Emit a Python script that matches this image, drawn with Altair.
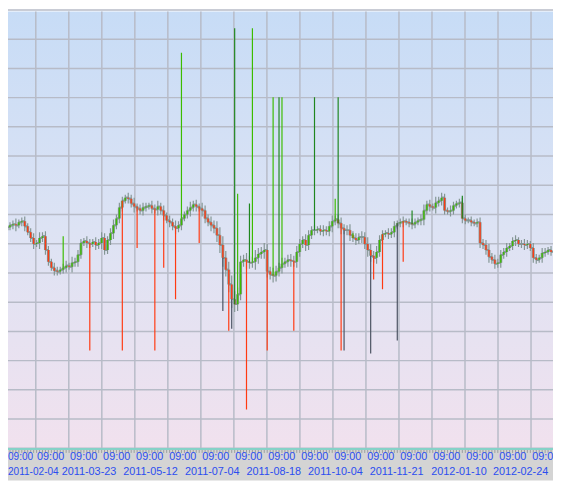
import altair as alt
import pandas as pd

# ---------------- data ----------------
# one close per bar, bars are evenly spaced along the time axis
closes = [
    26.6, 27.0, 27.3, 27.5, 27.6, 27.5, 27.8, 27.9, 27.4, 26.8,
    26.2, 25.6, 25.7, 26.2, 26.4, 25.0, 23.8, 23.2, 22.9, 22.8,
    23.0, 23.2, 23.4, 23.3, 23.7, 23.8, 24.5, 25.7, 25.9, 25.7,
    25.6, 25.8, 25.5, 25.7, 26.2, 25.0, 26.0, 26.7, 27.5, 28.2,
    29.3, 30.0, 30.3, 30.2, 29.7, 29.4, 29.2, 29.0, 29.3, 29.4,
    29.5, 29.2, 29.1, 29.4, 29.0, 28.5, 28.0, 27.8, 27.4, 27.2,
    27.5, 28.2, 28.6, 29.0, 29.3, 29.6, 29.4, 29.2, 29.0, 28.2,
    27.8, 27.5, 27.2, 26.5, 25.5, 24.2, 23.0, 21.5, 20.0, 19.5,
    20.5, 23.8, 24.0, 23.8, 23.7, 23.8, 24.2, 24.6, 24.8, 25.0,
    22.8, 22.5, 22.4, 22.8, 23.2, 23.6, 23.8, 24.0, 23.9, 23.8,
    24.8, 25.6, 26.0, 25.5, 26.5, 27.0, 27.0, 27.1, 26.9, 27.0,
    26.9, 27.4, 27.9, 28.1, 27.7, 27.2, 27.0, 27.0, 26.5, 26.2,
    26.0, 26.3, 26.3, 25.6, 25.0, 24.4, 24.2, 24.8, 26.0, 26.6,
    26.7, 26.6, 26.8, 27.4, 27.7, 27.8, 27.9, 27.8, 27.7, 27.6,
    27.8, 28.0, 28.1, 29.0, 29.6, 29.4, 29.3, 29.8, 30.0, 30.3,
    29.0, 28.9, 29.0, 29.5, 29.7, 29.8, 28.2, 28.0, 28.0, 27.8,
    27.7, 27.8, 25.7, 25.5, 25.0, 24.3, 24.0, 23.6, 23.7, 24.5,
    24.8, 25.2, 25.4, 25.9, 26.0, 25.6, 25.6, 25.5, 25.6, 25.2,
    24.2, 24.0, 24.2, 24.7, 24.8, 25.0, 24.8,
]

# how far each bar's high/low reaches beyond its body (price units)
wicks = [
    0.4, 0.3, 0.5, 0.3, 0.4, 0.6, 0.3, 0.4, 0.5, 0.3,
    0.4, 0.5, 0.3, 0.6, 0.4, 0.5, 0.4, 0.3, 0.5, 0.4,
    0.3, 0.4, 0.5, 0.3, 0.6, 0.4, 0.5, 0.4, 0.3, 0.5,
    0.4, 0.3, 0.5, 0.4, 0.6, 0.5, 0.4, 0.5, 0.6, 0.4,
    0.5, 0.4, 0.3, 0.5, 0.4, 0.6, 0.3, 0.4, 0.5, 0.4,
    0.3, 0.5, 0.4, 0.6, 0.4, 0.5, 0.3, 0.5, 0.4, 0.6,
    0.4, 0.5, 0.3, 0.4, 0.6, 0.4, 0.5, 0.3, 0.6, 0.5,
    0.4, 0.6, 0.5, 0.7, 0.8, 0.9, 0.7, 0.8, 0.9, 0.8,
    0.7, 0.6, 0.5, 0.7, 0.6, 0.5, 0.8, 0.6, 0.5, 0.7,
    0.6, 0.5, 0.7, 0.6, 0.5, 0.6, 0.4, 0.5, 0.6, 0.5,
    0.6, 0.5, 0.4, 0.6, 0.5, 0.4, 0.5, 0.3, 0.4, 0.5,
    0.4, 0.5, 0.6, 0.4, 0.5, 0.6, 0.4, 0.5, 0.6, 0.4,
    0.5, 0.4, 0.6, 0.5, 0.7, 0.6, 0.5, 0.6, 0.5, 0.4,
    0.3, 0.5, 0.4, 0.5, 0.3, 0.4, 0.5, 0.3, 0.4, 0.5,
    0.4, 0.3, 0.5, 0.6, 0.4, 0.5, 0.3, 0.6, 0.4, 0.5,
    0.4, 0.3, 0.5, 0.4, 0.3, 0.4, 0.5, 0.4, 0.3, 0.4,
    0.3, 0.4, 0.5, 0.4, 0.5, 0.6, 0.4, 0.5, 0.4, 0.5,
    0.4, 0.5, 0.3, 0.4, 0.5, 0.3, 0.4, 0.5, 0.4, 0.3,
    0.5, 0.4, 0.3, 0.5, 0.4, 0.3, 0.4,
]

# long single-bar spikes: bar number, price reached, kind
spike_bar = [21, 61, 79, 80, 84, 85, 92, 94, 95, 106, 113, 114, 119, 139, 156,
             30, 41, 46, 52, 55, 59, 67, 75, 77, 78, 83, 90, 99, 115, 116,
             125, 126, 129, 134, 136]
spike_tip = [26.4, 45.0, 47.5, 30.7, 29.7, 47.5, 40.5, 40.5, 40.5, 40.5,
             30.2, 40.5, 26.7, 29.0, 30.5,
             14.8, 14.8, 25.2, 14.8, 23.2, 20.0, 25.7, 18.8, 16.8, 17.0,
             8.8, 14.8, 16.8, 14.8, 14.8, 14.5, 22.0, 21.0, 15.8, 23.8]
spike_kind = ["up", "up", "up2", "up", "up2", "up", "up", "up2", "up", "up2",
              "up", "up2", "up", "up2", "up2",
              "down", "down", "down", "down", "down", "down", "down", "dark",
              "down", "dark", "down", "down", "down", "down", "dark", "dark",
              "down", "down", "dark", "down"]

time_labels = ["09:00"] * 17
date_labels = ["2011-02-04", "2011-03-23", "2011-05-12", "2011-07-04",
               "2011-08-18", "2011-10-04", "2011-11-21", "2012-01-10",
               "2012-02-24"]

# ---------------- layout helpers ----------------
W, H = 553, 476          # whole chart (page minus 8px margin)
PLOT_H = 443             # plot part above the axis band


def bar_pos(px):
    """reference pixel -> bar number (bars every 3 px starting at px 1)"""
    return (px - 1) / 3.0


n = len(closes)
opens = [closes[0]] + closes[:-1]
bars = pd.DataFrame({"i": list(range(n)), "open": opens, "close": closes})
bars["dir"] = ["up" if c >= o else "down" for o, c in zip(opens, closes)]
bars["high"] = [max(o, c) + w for o, c, w in zip(opens, closes, wicks)]
bars["low"] = [min(o, c) - w for o, c, w in zip(opens, closes, wicks)]
bars["il"] = bars["i"] - 1.1
bars["ir"] = bars["i"] + 1.1

spikes = pd.DataFrame({
    "i": spike_bar,
    "base": [closes[b] for b in spike_bar],
    "tip": spike_tip,
    "kind": spike_kind,
})

grid_x = pd.DataFrame({"g": [bar_pos(2.7 + 33.5 * k) for k in range(17)]})
grid_y = pd.DataFrame({"p": [50 - (6.5 + 29.65 * k) / 10 for k in range(16)]})

time_pos = [bar_pos(max(2.7 + 33.5 * k + 1.3, 8)) for k in range(17)]
times = pd.DataFrame({"x": time_pos, "t": time_labels,
                      "fs": [10.2] + [11] * (len(time_labels) - 1)})
date_pos = [bar_pos(max(62.5 * k, 8)) for k in range(len(date_labels))]
dates = pd.DataFrame({"x": date_pos, "t": date_labels,
                      "fs": [10.2] + [11] * (len(date_labels) - 1)})

xs = alt.Scale(domain=[bar_pos(8), bar_pos(561)], nice=False, zero=False)
ys = alt.Scale(domain=[1.6, 49.2], nice=False, zero=False)
one = pd.DataFrame({"a": [0]})

bg = alt.Chart(one).mark_rect(
    color=alt.Gradient(
        gradient="linear", x1=0, x2=0, y1=0, y2=1,
        stops=[alt.GradientStop(color="#c7dcf6", offset=0),
               alt.GradientStop(color="#dde3f4", offset=0.5),
               alt.GradientStop(color="#f1e1ee", offset=1)])
).encode(x=alt.value(0), x2=alt.value(W), y=alt.value(0), y2=alt.value(PLOT_H))

gx = alt.Chart(grid_x).mark_rule(color="#b7bbc7", strokeWidth=1.5).encode(
    x=alt.X("g:Q", scale=xs, axis=None), y=alt.value(0), y2=alt.value(PLOT_H))
gy = alt.Chart(grid_y).mark_rule(color="#b7bbc7", strokeWidth=1.5).encode(
    y=alt.Y("p:Q", scale=ys, axis=None), x=alt.value(0), x2=alt.value(W))

grey = "#849694"
wick = alt.Chart(bars).mark_rule(color=grey, strokeWidth=1.2, clip=True).encode(
    x=alt.X("i:Q", scale=xs, axis=None),
    y=alt.Y("low:Q", scale=ys, axis=None), y2="high:Q")
stem = alt.Chart(bars).mark_rule(color=grey, strokeWidth=3.0, clip=True).encode(
    x=alt.X("i:Q", scale=xs, axis=None),
    y=alt.Y("open:Q", scale=ys, axis=None), y2="close:Q")
tick_l = alt.Chart(bars).mark_rule(color=grey, strokeWidth=1.7, clip=True).encode(
    x=alt.X("il:Q", scale=xs, axis=None), x2="i:Q",
    y=alt.Y("open:Q", scale=ys, axis=None))
tick_r = alt.Chart(bars).mark_rule(color=grey, strokeWidth=1.7, clip=True).encode(
    x=alt.X("i:Q", scale=xs, axis=None), x2="ir:Q",
    y=alt.Y("close:Q", scale=ys, axis=None))

dir_scale = alt.Scale(domain=["up", "up2", "down", "dark"],
                      range=["#3cbc00", "#1f861f", "#ff3a12", "#4b5262"])

body = alt.Chart(bars).mark_rule(strokeWidth=1.4, clip=True).encode(
    x=alt.X("i:Q", scale=xs, axis=None),
    y=alt.Y("open:Q", scale=ys, axis=None), y2="close:Q",
    color=alt.Color("dir:N", scale=dir_scale, legend=None))

spk = alt.Chart(spikes).mark_rule(strokeWidth=1.2, clip=True).encode(
    x=alt.X("i:Q", scale=xs, axis=None),
    y=alt.Y("base:Q", scale=ys, axis=None), y2="tip:Q",
    color=alt.Color("kind:N", scale=dir_scale, legend=None))

band = alt.Chart(one).mark_rect(color="#d4d4d4").encode(
    x=alt.value(0), x2=alt.value(W), y=alt.value(PLOT_H), y2=alt.value(H))
teal = alt.Chart(one).mark_rule(color="#86d2c8", strokeWidth=2).encode(
    x=alt.value(0), x2=alt.value(W), y=alt.value(PLOT_H + 1))
minor = alt.Chart(bars).mark_rule(color="#9aa0a0", strokeWidth=1).encode(
    x=alt.X("i:Q", scale=xs, axis=None),
    y=alt.value(PLOT_H + 2), y2=alt.value(PLOT_H + 5))

font = "Liberation Sans"
tlab = alt.Chart(times).mark_text(
    align="left", baseline="alphabetic", font=font,
    color="#2b4df0").encode(
    x=alt.X("x:Q", scale=xs, axis=None), y=alt.value(455), text="t:N",
    size=alt.Size("fs:Q", scale=None, legend=None))
dlab = alt.Chart(dates).mark_text(
    align="left", baseline="alphabetic", font=font,
    color="#2b4df0").encode(
    x=alt.X("x:Q", scale=xs, axis=None), y=alt.value(470), text="t:N",
    size=alt.Size("fs:Q", scale=None, legend=None))

chart = alt.layer(
    bg, gx, gy, wick, stem, tick_l, tick_r, body, spk, band, teal, minor,
    tlab, dlab
).properties(
    width=W, height=H, autosize=alt.AutoSizeParams(type="none"), padding=0
).configure_view(stroke=None)

chart.save("out.html", embed_options={"renderer": "svg", "actions": False})
